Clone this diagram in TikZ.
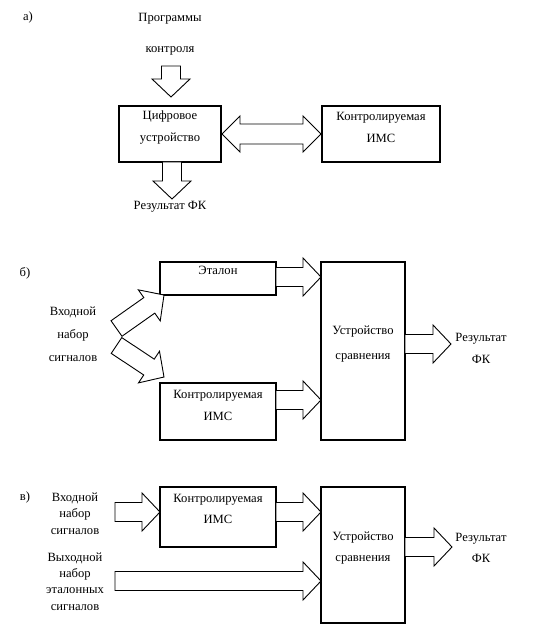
\documentclass[tikz,border=0pt]{standalone}
\usepackage{fontspec}
\setmainfont{Liberation Serif}
\usetikzlibrary{calc}

\tikzset{
  box/.style={draw, line width=2pt, inner sep=0pt},
  fat/.style={draw, line width=0.9pt, line join=miter, fill=white},
  txt/.style={inner sep=0pt, align=center, font=\fontsize{12.6}{21.5}\selectfont},
}

\newcommand{\fatarrow}[2]{%
  \path ($(#2)!18pt!(#1)$) coordinate (fa-b);
  \draw[fat] ($(#1)!9.5pt!90:(#2)$) -- ($(fa-b)!9.5pt!90:(#2)$) -- ($(fa-b)!19pt!90:(#2)$) -- (#2)
    -- ($(fa-b)!19pt!-90:(#2)$) -- ($(fa-b)!9.5pt!-90:(#2)$) -- ($(#1)!9.5pt!-90:(#2)$) -- cycle;}
\newcommand{\fatdarrow}[2]{%
  \path ($(#1)!18pt!(#2)$) coordinate (fa-a) ($(#2)!18pt!(#1)$) coordinate (fa-b);
  \draw[fat] (#1) -- ($(fa-a)!18pt!90:(#2)$) -- ($(fa-a)!10pt!90:(#2)$) -- ($(fa-b)!10pt!90:(#2)$)
    -- ($(fa-b)!18pt!90:(#2)$) -- (#2) -- ($(fa-b)!18pt!-90:(#2)$) -- ($(fa-b)!10pt!-90:(#2)$)
    -- ($(fa-a)!10pt!-90:(#2)$) -- ($(fa-a)!18pt!-90:(#2)$) -- cycle;}

\begin{document}
\begin{tikzpicture}[x=1pt, y=-1pt]
\useasboundingbox (0,0) rectangle (552,639);

\node[txt] (lbl-a) at (28,17) {а)};
\node[txt, font=\fontsize{12.6}{31}\selectfont] (prog) at (170,34.5) {Программы\\контроля};
\node[box, minimum width=102pt, minimum height=56pt] (dev) at (170,134) {};
\node[txt] (dev-text) at (170,127.5) {Цифровое\\устройство};
\node[box, minimum width=118pt, minimum height=56pt] (ims-a) at (381,134) {};
\node[txt] (ims-a-text) at (381,127.5) {Контролируемая\\ИМС};
\node[txt] (res-a) at (170,207) {Результат ФК};
\coordinate (prog-out) at (171,66);
\coordinate (dev-in) at (171,97);
\coordinate (dev-out) at (172,162);
\coordinate (res-a-in) at (172,199);
\fatarrow{prog-out}{dev-in}
\fatarrow{dev-out}{res-a-in}
\fatdarrow{dev.east}{ims-a.west}

\node[txt] (lbl-b) at (25,273) {б)};
\node[txt, font=\fontsize{12.6}{23}\selectfont] (in-b) at (73,334) {Входной\\набор\\сигналов};
\node[box, minimum width=116pt, minimum height=33pt] (etal) at (218,278.5) {};
\node[txt] (etal-text) at (218,270) {Эталон};
\node[box, minimum width=116pt, minimum height=57pt] (ims-b) at (218,411.5) {};
\node[txt] (ims-b-text) at (218,405.5) {Контролируемая\\ИМС};
\node[box, minimum width=84pt, minimum height=178pt] (cmp-b) at (363,351) {};
\node[txt, font=\fontsize{12.6}{25}\selectfont] (cmp-b-text) at (363,344.5) {Устройство\\сравнения};
\node[txt] (res-b) at (481,348.5) {Результат\\ФК};
\coordinate (fork-up) at (116.5,328.5);
\coordinate (fork-dn) at (116.5,345.5);
\coordinate (etal-in) at (164,295);
\coordinate (ims-b-in) at (164,377);
\coordinate (etal-out) at (276,277);
\coordinate (cmp-b-in1) at (321,277);
\coordinate (ims-b-out) at (276,400);
\coordinate (cmp-b-in2) at (321,400);
\coordinate (cmp-b-out) at (405,344);
\coordinate (res-b-in) at (451,344);
\fatarrow{fork-up}{etal-in}
\fatarrow{fork-dn}{ims-b-in}
\fatarrow{etal-out}{cmp-b-in1}
\fatarrow{ims-b-out}{cmp-b-in2}
\fatarrow{cmp-b-out}{res-b-in}

\node[txt] (lbl-c) at (25,497) {в)};
\node[txt, font=\fontsize{12.6}{16.5}\selectfont] (in-c) at (75,513.5) {Входной\\набор\\сигналов};
\node[txt, font=\fontsize{12.6}{16.3}\selectfont] (ref-c) at (75,581.5) {Выходной\\набор\\эталонных\\сигналов};
\node[box, minimum width=116pt, minimum height=60pt] (ims-c) at (218,517) {};
\node[txt] (ims-c-text) at (218,509) {Контролируемая\\ИМС};
\node[box, minimum width=84pt, minimum height=136pt] (cmp-c) at (363,555) {};
\node[txt] (cmp-c-text) at (363,548) {Устройство\\сравнения};
\node[txt] (res-c) at (481,548) {Результат\\ФК};
\coordinate (in-c-out) at (115,512);
\coordinate (ims-c-in) at (160,512);
\coordinate (ims-c-out) at (276,512);
\coordinate (cmp-c-in1) at (321,512);
\coordinate (ref-c-out) at (115,581);
\coordinate (cmp-c-in2) at (321,581);
\coordinate (cmp-c-out) at (405,547);
\coordinate (res-c-in) at (452,547);
\fatarrow{in-c-out}{ims-c-in}
\fatarrow{ims-c-out}{cmp-c-in1}
\fatarrow{ref-c-out}{cmp-c-in2}
\fatarrow{cmp-c-out}{res-c-in}
\end{tikzpicture}
\end{document}
